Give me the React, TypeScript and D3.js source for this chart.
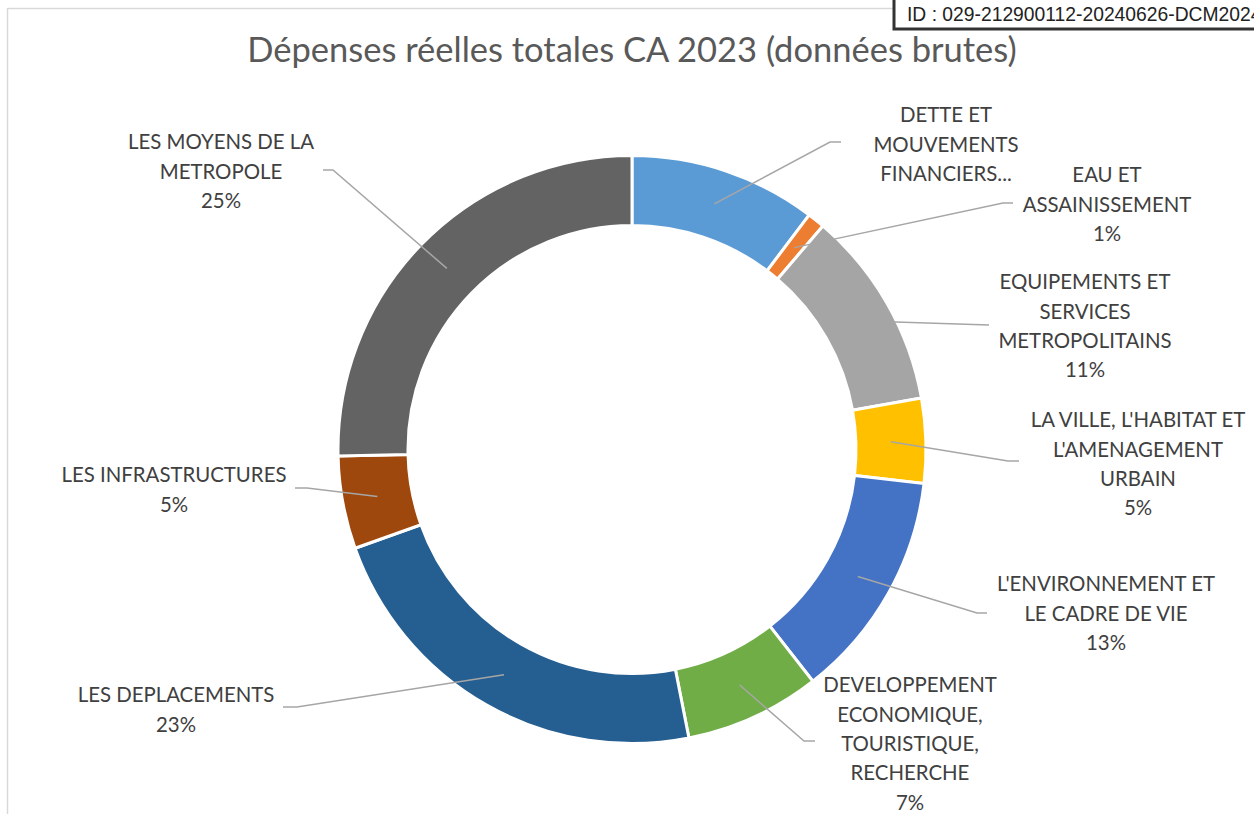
import React from "react";
import * as d3 from "d3";

const categories = [
  "DETTE ET MOUVEMENTS FINANCIERS",
  "EAU ET ASSAINISSEMENT",
  "EQUIPEMENTS ET SERVICES METROPOLITAINS",
  "LA VILLE, L'HABITAT ET L'AMENAGEMENT URBAIN",
  "L'ENVIRONNEMENT ET LE CADRE DE VIE",
  "DEVELOPPEMENT ECONOMIQUE, TOURISTIQUE, RECHERCHE",
  "LES DEPLACEMENTS",
  "LES INFRASTRUCTURES",
  "LES MOYENS DE LA METROPOLE",
];
const values = [10.3, 0.95, 10.95, 4.65, 12.6, 7.45, 22.65, 5.1, 25.35];
const colors = ["#5b9bd5", "#ed7d31", "#a5a5a5", "#ffc000", "#4472c4", "#70ad47", "#255e91", "#9e480e", "#636363"];
const labelLines = [
  ["DETTE ET", "MOUVEMENTS", "FINANCIERS..."],
  ["EAU ET", "ASSAINISSEMENT"],
  ["EQUIPEMENTS ET", "SERVICES", "METROPOLITAINS"],
  ["LA VILLE, L'HABITAT ET", "L'AMENAGEMENT", "URBAIN"],
  ["L'ENVIRONNEMENT ET", "LE CADRE DE VIE"],
  ["DEVELOPPEMENT", "ECONOMIQUE,", "TOURISTIQUE,", "RECHERCHE"],
  ["LES DEPLACEMENTS"],
  ["LES INFRASTRUCTURES"],
  ["LES MOYENS DE LA", "METROPOLE"],
];
const showPct = [false, true, true, true, true, true, true, true, true];
// label layout: text centre x, first line centre y, leader elbow, leader end
const labelLayout = [
  { cx: 946, y: 115, elbow: [830, 142], end: [841, 142] },
  { cx: 1107, y: 175, elbow: [1003, 203], end: [1013, 203] },
  { cx: 1085, y: 282, elbow: [989, 325], end: [989, 325] },
  { cx: 1138, y: 420, elbow: [1008, 461], end: [1019, 461] },
  { cx: 1106, y: 584, elbow: [977, 613], end: [987, 613] },
  { cx: 910, y: 685, elbow: [804, 741], end: [815, 741] },
  { cx: 176, y: 695, elbow: [297, 707], end: [283, 707] },
  { cx: 174, y: 475, elbow: [307, 488], end: [295, 488] },
  { cx: 221, y: 142, elbow: [333, 170], end: [323, 170] },
];

const W = 1254;
const H = 814;
const CX = 632;
const CY = 449.5;
const R_OUT = 294;
const R_IN = 224;
const LINE_H = 29.3;
const FONT = "Lato, 'Open Sans', sans-serif";

export default function App() {
  const total = d3.sum(values);
  const pie = d3.pie<number>().sort(null).value((d) => d);
  const arcs = pie(values);
  const arc = d3.arc<d3.PieArcDatum<number>>().innerRadius(R_IN).outerRadius(R_OUT);
  const fmt = d3.format(".0%");

  return (
    <svg width={W} height={H} style={{ position: "absolute", left: 0, top: 0, background: "#fff" }}>
      <rect x={0} y={0} width={W} height={H} fill="#fff" />
      <line x1={7.5} y1={8.5} x2={W} y2={8.5} stroke="#d9d9d9" strokeWidth={1.5} />
      <line x1={7.5} y1={8} x2={7.5} y2={H} stroke="#d9d9d9" strokeWidth={1.5} />
      <text x={CX} y={53} textAnchor="middle" dominantBaseline="middle" fill="#595959" fontFamily={FONT} fontSize={34.5}>
        Dépenses réelles totales CA 2023 (données brutes)
      </text>
      <g transform={`translate(${CX},${CY})`}>
        {arcs.map((a, i) => (
          <path key={i} d={arc(a) || ""} fill={colors[i]} stroke="#fff" strokeWidth={3} />
        ))}
      </g>
      {arcs.map((a, i) => {
        const [mx, my] = arc.centroid(a);
        const L = labelLayout[i];
        const pts = [[CX + mx, CY + my], L.elbow, L.end];
        const line = d3.line()(pts as [number, number][]);
        return <path key={"l" + i} d={line || ""} fill="none" stroke="#a6a6a6" strokeWidth={1.5} />;
      })}
      {labelLayout.map((L, i) => {
        const lines = [...labelLines[i]];
        if (showPct[i]) lines.push(fmt(values[i] / total));
        return (
          <text key={"t" + i} textAnchor="middle" fill="#404040" fontFamily={FONT} fontSize={20.4}>
            {lines.map((s, j) => (
              <tspan key={j} x={L.cx} y={L.y + j * LINE_H} dy="0.36em">
                {s}
              </tspan>
            ))}
          </text>
        );
      })}
      <rect x={894} y={-10} width={400} height={39} fill="#fff" stroke="#333" strokeWidth={3} />
      <text x={907} y={21} fill="#222" fontFamily="'Liberation Sans', Arial, sans-serif" fontSize={19.3}>
        ID : 029-212900112-20240626-DCM2024
      </text>
    </svg>
  );
}
